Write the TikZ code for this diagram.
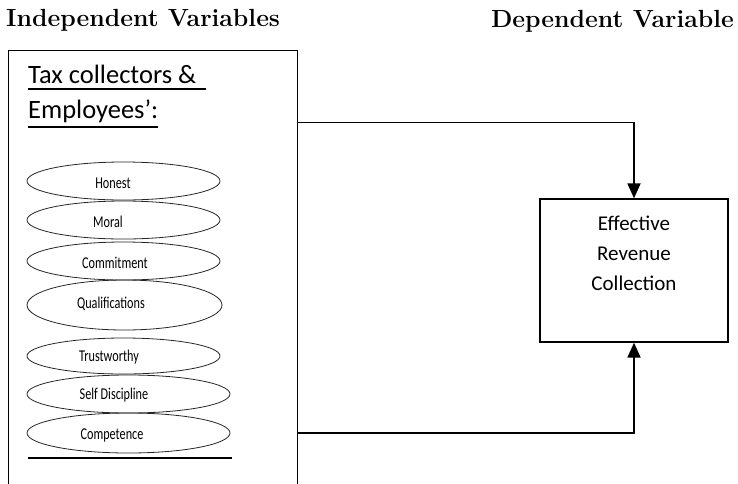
\documentclass[tikz,border=0pt]{standalone}
\usepackage{fontspec}
\usetikzlibrary{shapes.geometric,arrows.meta}

\newfontfamily\calib{Carlito}
\newfontfamily\ovalfont[FakeStretch=0.74]{Carlito}

\tikzset{
  heading/.style={font=\bfseries\fontsize{24.8}{28}\selectfont, inner sep=0pt},
  boxtext/.style={font=\calib\fontsize{26.5}{30}\selectfont, inner sep=0pt},
  oval/.style={ellipse, draw=black!85, line width=0.8pt, minimum width=193pt, minimum height=38pt, inner sep=0pt},
  ovaltext/.style={font=\ovalfont\fontsize{16.5}{18}\selectfont, inner sep=0pt},
  frame/.style={draw, line width=1.3pt},
  uline/.style={line width=1.6pt},
  conn/.style={line width=1.8pt, -{Triangle[length=15pt,width=13pt]}},
}

\begin{document}
\begin{tikzpicture}[x=1pt, y=-1pt]

\clip (0,0) rectangle (738,483);

% headings
\node[heading, anchor=base west] (indhead) at (6,26) {Independent Variables};
\node[heading, anchor=base east] (dephead) at (734,27) {Dependent Variable};

% left box
\node[frame, anchor=north west, minimum width=289pt, minimum height=460pt] (indep) at (8,50) {};

\node[boxtext, anchor=base west] (tax) at (28,83) {Tax collectors \&};
\node[boxtext, anchor=base west] (empl) at (28,118) {Employees’:};
\draw[uline] ([yshift=-6pt]tax.base west) -- ([yshift=-6pt, xshift=10pt]tax.base east);
\draw[uline] ([yshift=-9pt]empl.base west) -- ([yshift=-9pt]empl.base east);

% ovals
\node[oval] (honest) at (123.5,181) {};
\node[ovaltext] (honestT) at (113,183) {Honest};

\node[oval] (moral) at (123.5,220) {};
\node[ovaltext] (moralT) at (108,222) {Moral};

\node[oval] (commit) at (123.5,261) {};
\node[ovaltext] (commitT) at (115,263) {Commitment};

\node[oval, minimum width=195pt, minimum height=50pt] (qualif) at (124.5,305) {};
\node[ovaltext] (qualifT) at (111,304) {Qualifications};

\node[oval, minimum height=36pt] (trust) at (123.5,356) {};
\node[ovaltext] (trustT) at (109,357) {Trustworthy};

\node[oval, minimum width=203pt] (selfd) at (128.5,394) {};
\node[ovaltext] (selfdT) at (114,395) {Self Discipline};

\node[oval, minimum width=203pt, minimum height=40pt] (compet) at (128.5,433) {};
\node[ovaltext] (competT) at (112,435) {Competence};

\draw[uline, line width=2pt] (28,458) -- (232,458);

% right box
\node[frame, minimum width=188pt, minimum height=143pt] (erc) at (634,270.5) {};
\node[font=\calib\fontsize{21}{30}\selectfont, align=center] (ercT) at (634,253) {Effective\\Revenue\\Collection};

% connectors
\draw[conn] (indep.east |- empl.south) -| (erc.north);
\draw[conn] (indep.east |- compet) -| (erc.south);

\end{tikzpicture}
\end{document}
